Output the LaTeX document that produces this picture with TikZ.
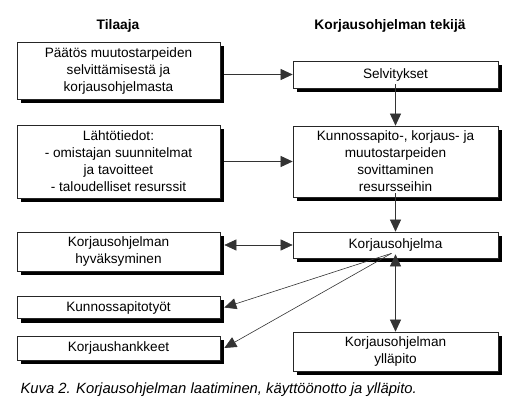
\documentclass[tikz,border=0pt]{standalone}
\usepackage{fontspec}
\setmainfont{Liberation Sans}
\usepackage{tikz}
\usetikzlibrary{positioning,arrows.meta,backgrounds}

\begin{document}
\begin{tikzpicture}[x=1pt,y=-1pt,
	box/.style={draw=black!85,fill=white,line width=0.7pt,align=center,inner sep=1pt,
		font=\fontsize{13.6}{17}\selectfont},
	lbox/.style={box,minimum width=203pt},
	rbox/.style={box,minimum width=205pt},
	arr/.style={line width=0.6pt,draw=black!80,-{Triangle[length=12pt,width=11pt]}},
	dblarr/.style={arr,{Triangle[length=12pt,width=11pt]}-{Triangle[length=12pt,width=11pt]}}]
				\useasboundingbox (0,0) rectangle (521,419);
				\node [font=\fontsize{13.8}{16}\selectfont\bfseries] (tilaaja) at (118,26) {Tilaaja};
				\node [font=\fontsize{13.8}{16}\selectfont\bfseries] (tekija) at (390,26) {Korjausohjelman tekijä};
				% tilaaja
				\node [lbox,minimum height=57pt] (paatos) at (118.5,70.5) {Päätös muutostarpeiden\\selvittämisestä ja\\korjausohjelmasta};
				\node [lbox,minimum height=73pt] (lahto) at (118.5,161.5) {Lähtötiedot:\\- omistajan suunnitelmat\\ja tavoitteet\\- taloudelliset resurssit};
				\node [lbox,minimum height=39pt] (hyvaks) at (118.5,251.5) {Korjausohjelman\\hyväksyminen};
				\node [lbox,minimum height=22pt] (kptyot) at (118.5,307.5) {Kunnossapitotyöt};
				\node [lbox,minimum height=24pt] (hankkeet) at (118.5,348) {Korjaushankkeet};
				% tekija
				\node [rbox,minimum height=27pt] (selv) at (395.5,74.5) {Selvitykset};
				\node [rbox,minimum height=71pt] (sovit) at (395.5,161.5) {Kunnossapito-, korjaus- ja\\muutostarpeiden\\sovittaminen\\resursseihin};
				\node [rbox,minimum height=26pt] (ohjelma) at (395.5,245) {Korjausohjelma};
				\node [rbox,minimum height=39pt] (yllapito) at (395.5,351.5) {Korjausohjelman\\ylläpito};
				\node [anchor=west,font=\fontsize{14.8}{17}\selectfont\itshape] (kuva) at (17,390) {Kuva 2. Korjausohjelman laatiminen, käyttöönotto ja ylläpito.};
				% varjot
				\begin{scope}[on background layer]
					\foreach \n in {paatos,lahto,hyvaks,kptyot,hankkeet,selv,sovit,ohjelma,yllapito}
						\fill [black] ([shift={(4,4)}]\n.south west) rectangle ([shift={(4,4)}]\n.north east);
				\end{scope}
				\coordinate (jako) at ([xshift=-4pt,yshift=5pt]ohjelma.south);
				\draw [arr] ([xshift=4pt]paatos.east |- selv.west) -- (selv.west);
				\draw [arr] ([xshift=4pt]lahto.east) -- (sovit.west);
				\draw [arr] ([yshift=4pt]selv.south) -- (sovit.north);
				\draw [arr] ([yshift=4pt]sovit.south) -- (ohjelma.north);
				\draw [dblarr] ([xshift=4pt]hyvaks.east |- ohjelma.west) -- (ohjelma.west);
				\draw [arr] (jako) -- ([xshift=4pt]kptyot.east);
				\draw [arr] (jako) -- ([xshift=4pt]hankkeet.east);
				\draw [dblarr] ([yshift=4pt]ohjelma.south) -- (yllapito.north);
			\end{tikzpicture}
\end{document}
